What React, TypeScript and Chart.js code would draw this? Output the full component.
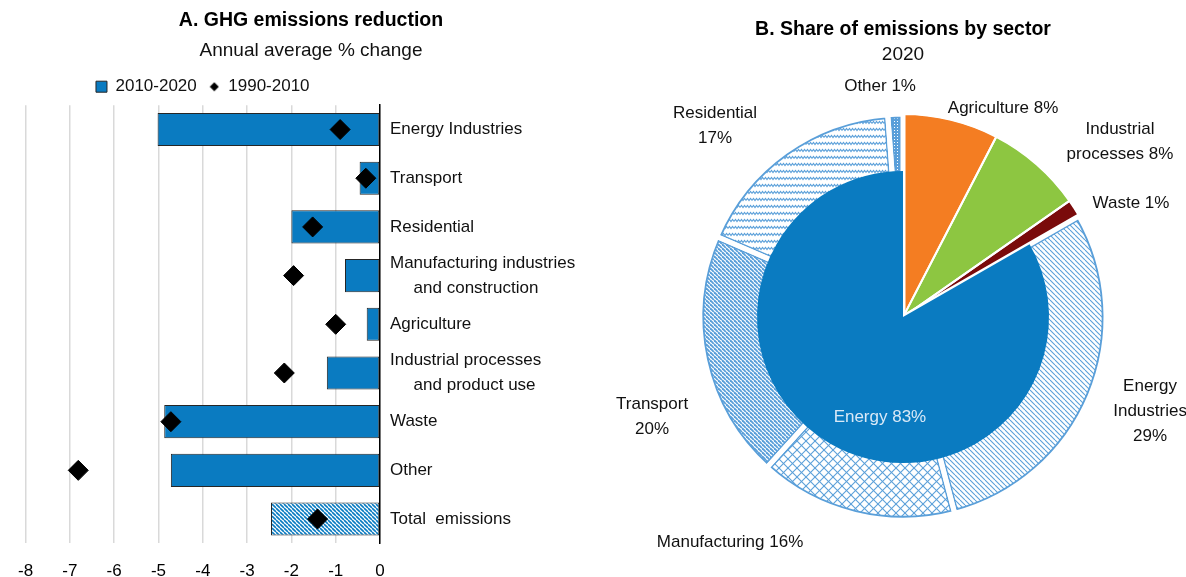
import React, { useEffect, useRef } from 'react';
import { Chart, registerables } from 'chart.js';

Chart.register(...registerables);

const FONT = "'Liberation Sans', Arial, sans-serif";

// ---------- Panel A data ----------
const categories: (string | string[])[] = [
  'Energy Industries',
  'Transport',
  'Residential',
  ['Manufacturing industries', '     and construction'],
  'Agriculture',
  ['Industrial processes', '     and product use'],
  'Waste',
  'Other',
  'Total  emissions',
];
const change2010to2020 = [-5.02, -0.46, -2.0, -0.79, -0.3, -1.2, -4.87, -4.72, -2.46];
const change1990to2010 = [-0.9, -0.32, -1.52, -1.95, -1.0, -2.16, -4.72, -6.81, -1.41];
const xTickMin = -8;
const xTickMax = 0;

// ---------- Panel B data ----------
const sectorLabels = ['Agriculture', 'Industrial processes', 'Waste', 'Energy'];
const sectorShares = [7.6, 7.7, 1.4, 83.3];
const energyLabels = ['Energy Industries', 'Manufacturing', 'Transport', 'Residential', 'Other'];
const energyShares = [29.2, 15.8, 19.8, 17.3, 1.2];

// ---------- styles ----------
const BLUE = '#0A7BC1';
const LB = '#5A9FD9';
const ORANGE = '#F47D22';
const GREEN = '#8DC641';
const DARKRED = '#7A0B0B';

function makePattern(w: number, h: number, draw: (c: CanvasRenderingContext2D) => void) {
  const cv = document.createElement('canvas');
  cv.width = w;
  cv.height = h;
  const c = cv.getContext('2d')!;
  draw(c);
  return c.createPattern(cv, 'repeat')!;
}

function diagPattern(size: number, color: string, lw: number, bg = '#fff') {
  return makePattern(size, size, (c) => {
    c.fillStyle = bg;
    c.fillRect(0, 0, size, size);
    c.strokeStyle = color;
    c.lineWidth = lw;
    for (const o of [-size, 0, size]) {
      c.beginPath();
      c.moveTo(o, 0);
      c.lineTo(o + size, size);
      c.stroke();
    }
  });
}

function crossPattern(size: number, color: string, lw: number) {
  return makePattern(size, size, (c) => {
    c.fillStyle = '#fff';
    c.fillRect(0, 0, size, size);
    c.strokeStyle = color;
    c.lineWidth = lw;
    for (const o of [-size, 0, size]) {
      c.beginPath();
      c.moveTo(o, 0);
      c.lineTo(o + size, size);
      c.stroke();
      c.beginPath();
      c.moveTo(o + size, 0);
      c.lineTo(o, size);
      c.stroke();
    }
  });
}

function wavePattern() {
  return makePattern(6, 7, (c) => {
    c.fillStyle = '#fff';
    c.fillRect(0, 0, 6, 7);
    c.strokeStyle = LB;
    c.lineWidth = 1.1;
    c.beginPath();
    c.moveTo(0, 4.5);
    c.lineTo(1.5, 2.5);
    c.lineTo(3, 4.5);
    c.lineTo(4.5, 2.5);
    c.lineTo(6, 4.5);
    c.stroke();
  });
}

function dotPattern() {
  return makePattern(3, 3, (c) => {
    c.fillStyle = LB;
    c.fillRect(0, 0, 3, 3);
    c.fillStyle = '#fff';
    c.fillRect(1, 1, 1, 1);
  });
}

const pct = (v: number) => `${Math.round(v)}%`;

const pieLabelPlugin = {
  id: 'pieLabels',
  afterDraw(chart: any, _args: any, opts: any) {
    const arc = chart.getDatasetMeta(0).data[0];
    if (!arc || !opts.items) return;
    const { x, y, outerRadius } = arc;
    const ctx = chart.ctx;
    ctx.save();
    ctx.font = `${opts.size}px ${FONT}`;
    ctx.textAlign = 'center';
    ctx.textBaseline = 'middle';
    for (const item of opts.items) {
      ctx.fillStyle = item.color || '#111';
      const cx = x + item.dx * outerRadius;
      const cy = y + item.dy * outerRadius;
      const n = item.lines.length;
      item.lines.forEach((line: string, k: number) => {
        ctx.fillText(line, cx, cy + (k - (n - 1) / 2) * opts.lineHeight);
      });
    }
    ctx.restore();
  },
};

export default function App() {
  const leftRef = useRef<HTMLCanvasElement>(null);
  const baseRef = useRef<HTMLCanvasElement>(null);
  const sepRef = useRef<HTMLCanvasElement>(null);
  const innerRef = useRef<HTMLCanvasElement>(null);

  useEffect(() => {
    const charts: Chart[] = [];

    // ---------- Panel A ----------
    const totalPattern = diagPattern(4, BLUE, 1.6);
    const diamondImg = document.createElement('canvas');
    diamondImg.width = 10;
    diamondImg.height = 10;
    {
      const d = diamondImg.getContext('2d')!;
      d.fillStyle = '#000';
      d.beginPath();
      d.moveTo(5, 0.5);
      d.lineTo(9.5, 5);
      d.lineTo(5, 9.5);
      d.lineTo(0.5, 5);
      d.closePath();
      d.fill();
    }

    charts.push(
      new Chart(leftRef.current!, {
        type: 'bar',
        data: {
          labels: categories as any,
          datasets: [
            {
              type: 'bar',
              label: '2010-2020',
              data: change2010to2020,
              backgroundColor: change2010to2020.map((_, i) =>
                i === change2010to2020.length - 1 ? totalPattern : BLUE
              ) as any,
              borderColor: '#262626',
              borderWidth: 1,
              borderSkipped: false,
              barPercentage: 0.68,
              categoryPercentage: 1,
              pointStyle: 'rect',
              order: 2,
            } as any,
            {
              type: 'line',
              label: '1990-2010',
              data: change1990to2010,
              showLine: false,
              pointStyle: 'rectRot',
              pointRadius: 10,
              pointHoverRadius: 10,
              backgroundColor: '#000',
              borderColor: '#000',
              pointBackgroundColor: '#000',
              pointBorderColor: '#000',
              pointBorderWidth: 1,
              order: 1,
            } as any,
          ],
        },
        options: {
          indexAxis: 'y',
          responsive: false,
          animation: false,
          events: [],
          layout: { padding: { left: 22, right: 0, top: 0, bottom: 0 } },
          scales: {
            x: {
              min: xTickMin,
              max: xTickMax,
              ticks: {
                stepSize: 1,
                color: '#000',
                padding: 18,
                font: { family: FONT, size: 17 },
              },
              grid: { color: '#D9D9D9', lineWidth: 1.5, drawTicks: false },
              border: { display: false },
              afterFit: (s: any) => {
                s.height = 33.6;
              },
            },
            y: {
              position: 'right',
              grid: { display: false, drawTicks: false },
              border: { display: true, color: '#000', width: 1.5 },
              ticks: {
                color: '#111',
                padding: 10,
                autoSkip: false,
                crossAlign: 'near',
                font: { family: FONT, size: 17, lineHeight: 1.45 },
              },
              afterFit: (s: any) => {
                s.width = 220;
              },
            },
          } as any,
          plugins: {
            tooltip: { enabled: false },
            title: {
              display: true,
              text: 'A. GHG emissions reduction',
              color: '#000',
              font: { family: FONT, size: 19.5, weight: 'bold' },
              padding: { top: 9, bottom: 7 },
            },
            subtitle: {
              display: true,
              text: 'Annual average % change',
              color: '#111',
              font: { family: FONT, size: 19 },
              padding: { top: 0, bottom: 4 },
            },
            legend: {
              display: true,
              position: 'top',
              fullSize: false,
              labels: {
                usePointStyle: true,
                boxWidth: 11,
                boxHeight: 11,
                padding: 12,
                color: '#111',
                font: { family: FONT, size: 17 },
                sort: (a: any, b: any) => a.datasetIndex - b.datasetIndex,
                generateLabels: (chart: any) => {
                  const items = (Chart as any).defaults.plugins.legend.labels.generateLabels(chart);
                  items.forEach((it: any) => {
                    if (it.datasetIndex === 1) it.pointStyle = diamondImg;
                    if (it.datasetIndex === 0) {
                      it.fillStyle = BLUE;
                      it.strokeStyle = '#262626';
                      it.lineWidth = 1;
                    }
                  });
                  return items;
                },
              },
            },
          },
        } as any,
      })
    );

    // ---------- Panel B ----------
    const ringValues = [...sectorShares.slice(0, 3), ...energyShares];
    const ringLabels = [...sectorLabels.slice(0, 3), ...energyLabels];
    const ringFills = [
      ORANGE,
      GREEN,
      DARKRED,
      diagPattern(5, LB, 1.1),
      crossPattern(9, LB, 1.1),
      diagPattern(4, LB, 1.9),
      wavePattern(),
      dotPattern(),
    ];
    const solid = sectorShares.slice(0, 3).length;

    const base = new Chart(baseRef.current!, {
      type: 'pie',
      data: {
        labels: ringLabels,
        datasets: [
          {
            data: ringValues,
            backgroundColor: ringFills as any,
            borderColor: ringValues.map((_, i) => (i < solid ? ringFills[i] : LB)) as any,
            borderWidth: ringValues.map((_, i) => (i < solid ? 0 : 4)),
            borderAlign: 'inner',
          },
        ],
      },
      options: {
        responsive: false,
        animation: false,
        events: [],
        radius: 203,
        layout: { padding: { left: 30, right: 0, top: 0, bottom: 13 } },
        plugins: {
          legend: { display: false },
          tooltip: { enabled: false },
          title: {
            display: true,
            text: 'B. Share of emissions by sector',
            color: '#000',
            font: { family: FONT, size: 19.5, weight: 'bold' },
            padding: { top: 18, bottom: 2 },
          },
          subtitle: {
            display: true,
            text: '2020',
            color: '#111',
            font: { family: FONT, size: 19 },
            padding: { top: 0, bottom: 4 },
          },
        },
      } as any,
    });
    charts.push(base);

    const ca = base.chartArea;
    const W = base.width;
    const H = base.height;
    const copyPad = { left: ca.left, top: ca.top, right: W - ca.right, bottom: H - ca.bottom };

    const labelItems = [
      { lines: [`Agriculture ${pct(ringValues[0])}`], dx: 0.493, dy: -1.03 },
      { lines: ['Industrial', `processes ${pct(ringValues[1])}`], dx: 1.069, dy: -0.862 },
      { lines: [`Waste ${pct(ringValues[2])}`], dx: 1.123, dy: -0.562 },
      { lines: ['Energy', 'Industries', pct(ringValues[3])], dx: 1.217, dy: 0.463 },
      { lines: [`Manufacturing ${pct(ringValues[4])}`], dx: -0.852, dy: 1.108 },
      { lines: ['Transport', pct(ringValues[5])], dx: -1.236, dy: 0.492 },
      { lines: ['Residential', pct(ringValues[6])], dx: -0.926, dy: -0.941 },
      { lines: [`Other ${pct(ringValues[7])}`], dx: -0.113, dy: -1.138 },
    ];

    charts.push(
      new Chart(sepRef.current!, {
        type: 'pie',
        data: {
          labels: ringLabels,
          datasets: [
            {
              data: ringValues,
              backgroundColor: 'rgba(0,0,0,0)',
              borderColor: '#fff',
              borderWidth: ringValues.map((_, i) => (i < solid ? 2 : 5)),
            },
          ],
        },
        options: {
          responsive: false,
          animation: false,
          events: [],
          radius: 203,
          layout: { padding: copyPad },
          plugins: {
            legend: { display: false },
            tooltip: { enabled: false },
            pieLabels: { items: labelItems, size: 17, lineHeight: 25 },
          },
        } as any,
        plugins: [pieLabelPlugin],
      })
    );

    charts.push(
      new Chart(innerRef.current!, {
        type: 'pie',
        data: {
          labels: sectorLabels,
          datasets: [
            {
              data: sectorShares,
              backgroundColor: sectorShares.map((_, i) =>
                i === sectorShares.length - 1 ? BLUE : 'rgba(0,0,0,0)'
              ),
              borderWidth: 0,
            },
          ],
        },
        options: {
          responsive: false,
          animation: false,
          events: [],
          radius: 146,
          layout: { padding: copyPad },
          plugins: {
            legend: { display: false },
            tooltip: { enabled: false },
            pieLabels: {
              items: [
                {
                  lines: [`${sectorLabels[3]} ${pct(sectorShares[3])}`],
                  dx: -0.158,
                  dy: 0.685,
                  color: '#D9E9F7',
                },
              ],
              size: 17,
              lineHeight: 25,
            },
          },
        } as any,
        plugins: [pieLabelPlugin],
      })
    );

    return () => charts.forEach((c) => c.destroy());
  }, []);

  const layer: React.CSSProperties = { position: 'absolute', left: 590, top: 0 };
  return (
    <div
      style={{
        position: 'fixed',
        left: 0,
        top: 0,
        width: 1186,
        height: 577,
        background: '#fff',
        overflow: 'hidden',
      }}
    >
      <canvas ref={leftRef} width={600} height={577} style={{ position: 'absolute', left: 0, top: 0 }} />
      <canvas ref={baseRef} width={596} height={577} style={layer} />
      <canvas ref={sepRef} width={596} height={577} style={layer} />
      <canvas ref={innerRef} width={596} height={577} style={layer} />
    </div>
  );
}
